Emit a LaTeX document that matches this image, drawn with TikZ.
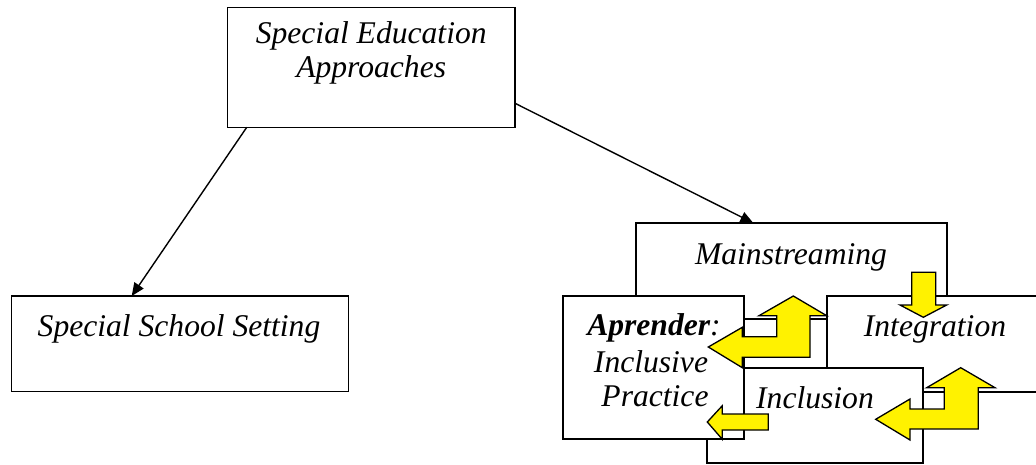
\documentclass[tikz,border=0pt]{standalone}
\usepackage{fontspec}
\setmainfont{Liberation Serif}
\usetikzlibrary{arrows.meta}

\tikzset{
  box/.style={draw, line width=1.4pt, fill=white, inner sep=0pt, outer sep=0pt},
  lbl/.style={anchor=base, inner sep=0pt, outer sep=0pt,
              font=\fontsize{31.6}{36}\selectfont\itshape},
  conn/.style={line width=1.4pt, -{Triangle[length=13pt,width=11pt]}},
  yarrow/.style={draw, fill=yellow, line width=1.3pt, line join=miter},
}

\begin{document}
\begin{tikzpicture}[x=1pt, y=-1pt]
  \useasboundingbox (0,0) rectangle (1036,465);
  \clip (0,0) rectangle (1036,465);

  % root and the separate-school branch
  \node[box, minimum width=287.7pt, minimum height=120pt] (top) at (371.2,67.3) {};
  \node[lbl] (topA) at (371.2,43.5) {Special Education};
  \node[lbl] (topB) at (371.2,77.5) {Approaches};

  \node[box, minimum width=336.6pt, minimum height=95.7pt] (sss) at (180,343.9) {};
  \node[lbl] (sssT) at (179,336) {Special School Setting};

  % overlapping approach boxes, back to front
  \node[box, minimum width=311pt, minimum height=96pt] (main) at (791.5,271) {};
  \node[lbl] (mainT) at (791,265) {Mainstreaming};

  \node[box, minimum width=216pt, minimum height=96pt] (integ) at (935,344) {};
  \node[lbl] (integT) at (935,336) {Integration};

  \node[box, minimum width=216pt, minimum height=95pt] (incl) at (815,415.5) {};
  \node[lbl] (inclT) at (815,408) {Inclusion};

  \node[box, minimum width=181pt, minimum height=143pt] (apr) at (653.5,367.5) {};
  \node[lbl] (aprA) at (654,335) {\textbf{Aprender}:};
  \node[lbl] (aprB) at (651,372.5) {Inclusive};
  \node[lbl] (aprC) at (655,406) {Practice};

  % connectors from the root
  \draw[conn] ([xshift=19.4pt]top.south west) -- ([xshift=120pt]sss.north west);
  \draw[conn] ([yshift=-36pt]top.east) -- ([xshift=117.3pt]main.north west);

  % yellow block arrows between the approaches
  \draw[yarrow] (708.3,347) -- (742.3,327.3) -- (742.3,336.7) -- (776.7,336.7)
    -- (776.7,315.7) -- (759,315.7) -- (793.3,296) -- (826.7,315.7)
    -- (810,315.7) -- (810,357.3) -- (742.3,357.3) -- (742.3,367.7) -- cycle;

  \draw[yarrow] (875.7,419.3) -- (910,399) -- (910,409) -- (944.3,409)
    -- (944.3,387.7) -- (926.7,387.7) -- (960.7,367.7) -- (995,387.7)
    -- (978.3,387.7) -- (978.3,429) -- (910,429) -- (910,440) -- cycle;

  \draw[yarrow] (707.3,422) -- (722.3,405.7) -- (722.3,414) -- (768.3,414)
    -- (768.3,430) -- (722.3,430) -- (722.3,439.3) -- cycle;

  \draw[yarrow] (911.7,272.3) -- (935.7,272.3) -- (935.7,305) -- (946.7,305)
    -- (923.3,317.3) -- (900,305) -- (911.7,305) -- cycle;
\end{tikzpicture}
\end{document}
